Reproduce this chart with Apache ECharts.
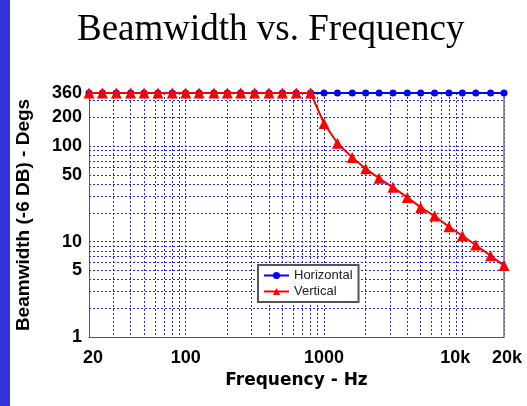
<!DOCTYPE html>
<html><head><meta charset="utf-8">
<script src="https://cdn.jsdelivr.net/npm/echarts@6/dist/echarts.min.js"></script>
<style>html,body{margin:0;padding:0;background:#fff}#c{width:527px;height:406px}</style>
</head><body><div id="c"></div><script>
// Data
const frequencies = [20,25,31.5,40,50,63,80,100,125,160,200,250,315,400,500,630,800,1000,1250,1600,2000,2500,3150,4000,5000,6300,8000,10000,12500,16000,20000];
const horizontal = [360,360,360,360,360,360,360,360,360,360,360,360,360,360,360,360,360,360,360,360,360,360,360,360,360,360,360,360,360,360,360];
const vertical = [360,360,360,360,360,360,360,360,360,360,360,360,360,360,360,360,360,173,107,76,58,46,37,29,22.8,18.5,14.3,11.5,9.2,7.1,5.6];
const xLabelValues = [20,100,1000,10000,20000];
const xLabelTexts = ['20','100','1000','10k','20k'];
const xGridValues = [20,30,40,50,60,70,80,90,100,200,300,400,500,600,700,800,900,1000,2000,3000,4000,5000,6000,7000,8000,9000,10000,20000];
const yLabelValues = [1,5,10,50,100,200,360];
const yGridValues = [1,2,3,4,5,6,7,8,9,10,20,30,40,50,60,70,80,90,100,200,300];

const chart = echarts.init(document.getElementById('c'), null, {renderer:'canvas'});
const tickFont = {fontFamily:'Liberation Sans, Arial, sans-serif', fontWeight:'bold', fontSize:18, color:'#000'};
const gridLine = {show:true, lineStyle:{color:'#2424ff', width:1, type:[2,2]}};
const xPad = {'20':[0,0,0,8], '10k':[0,14,0,0], '20k':[0,0,0,6]};
const rich = {};
xLabelTexts.forEach((t,i)=>{ rich['l'+i] = Object.assign({}, tickFont, {padding: xPad[t] || [0,0,0,0]}); });

chart.setOption({
  animation:false,
  backgroundColor:'#fff',
  graphic:[{type:'rect', left:0, top:0, shape:{width:10, height:406}, style:{fill:'#3232dc'}, silent:true}],
  title:{
    text:'Beamwidth vs. Frequency', left:72, top:7,
    textStyle:{fontFamily:'Liberation Serif, Times New Roman, serif', fontWeight:'normal', fontSize:37, color:'#000'}
  },
  grid:{left:89, right:23, top:93, bottom:69},
  legend:{
    data:['Horizontal','Vertical'], orient:'vertical', left:258, top:265,
    itemWidth:25, itemHeight:9, itemGap:3, padding:[4,6,4,5],
    borderColor:'#555', borderWidth:2, backgroundColor:'#fff',
    textStyle:{fontFamily:'Liberation Sans, Arial, sans-serif', fontSize:13, color:'#222'}
  },
  xAxis:{
    type:'log', logBase:10, min:20, max:20000,
    name:'Frequency - Hz', nameLocation:'middle', nameGap:28,
    nameTextStyle:{fontFamily:'DejaVu Sans, sans-serif', fontWeight:'bold', fontSize:17, color:'#000'},
    axisLine:{show:true, lineStyle:{color:'#555', width:1}},
    axisTick:{show:false, customValues:xGridValues},
    axisLabel:{customValues:xLabelValues, margin:12,
      formatter:(v)=>{ const i = xLabelValues.indexOf(v); return i<0 ? '' : '{l'+i+'|'+xLabelTexts[i]+'}'; },
      rich:rich},
    splitLine:gridLine, minorTick:{show:false}, minorSplitLine:{show:false}
  },
  yAxis:[{
    type:'log', logBase:10, min:1, max:360,
    name:'Beamwidth (-6 DB) - Degs', nameLocation:'middle', nameGap:56,
    nameTextStyle:{fontFamily:'Liberation Sans, Arial, sans-serif', fontWeight:'bold', fontSize:19, color:'#000'},
    axisLine:{show:true, lineStyle:{color:'#555', width:1}},
    axisTick:{show:false, customValues:yGridValues},
    axisLabel:Object.assign({customValues:yLabelValues, margin:7}, tickFont),
    splitLine:gridLine
  },{
    type:'log', logBase:10, min:1, max:360, position:'right',
    axisLine:{show:true, lineStyle:{color:'#777', width:1.5}},
    axisTick:{show:false}, axisLabel:{show:false}, splitLine:{show:false}
  }],
  series:[{
    name:'Horizontal', type:'line', data:frequencies.map((f,i)=>[f,horizontal[i]]),
    symbol:'circle', symbolSize:7, itemStyle:{color:'#0000ff'}, lineStyle:{color:'#0000ff', width:2}, z:3
  },{
    name:'Vertical', type:'line', data:frequencies.map((f,i)=>[f,vertical[i]]),
    symbol:'triangle', symbolSize:11, itemStyle:{color:'#ff0000'}, lineStyle:{color:'#ff0000', width:2}, z:4
  }]
});
</script></body></html>
